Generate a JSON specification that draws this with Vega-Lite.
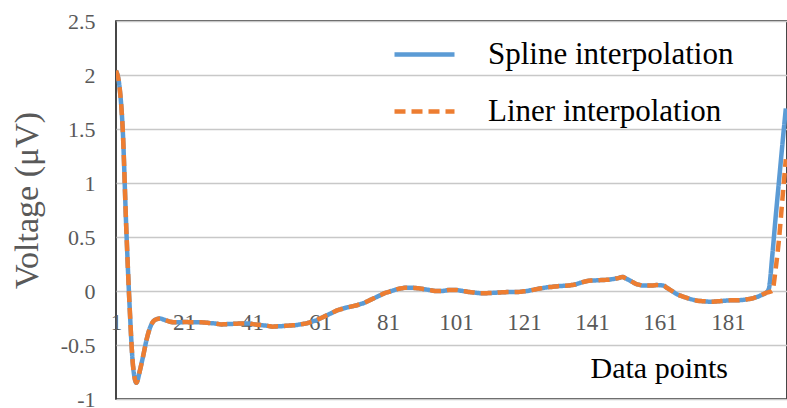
{
  "$schema": "https://vega.github.io/schema/vega-lite/v6.json",
  "width": 671,
  "height": 378,
  "autosize": "none",
  "padding": {"left": 116, "top": 21, "right": 0, "bottom": 9},
  "background": "white",
  "config": {
    "font": "Liberation Serif",
    "view": {"stroke": "#1a1a1a", "strokeWidth": 1.6},
    "axis": {"labelFont": "Liberation Serif", "titleFont": "Liberation Serif", "titleFontWeight": "normal"}
  },
  "data": {
    "values": [
      {"point": 1, "Spline interpolation": 2.04, "Liner interpolation": 2.04},
      {"point": 2, "Spline interpolation": 1.9, "Liner interpolation": 1.9},
      {"point": 3, "Spline interpolation": 1.48, "Liner interpolation": 1.48},
      {"point": 4, "Spline interpolation": 0.6, "Liner interpolation": 0.6},
      {"point": 5, "Spline interpolation": -0.14, "Liner interpolation": -0.14},
      {"point": 6, "Spline interpolation": -0.69, "Liner interpolation": -0.69},
      {"point": 7, "Spline interpolation": -0.85, "Liner interpolation": -0.85},
      {"point": 8, "Spline interpolation": -0.74, "Liner interpolation": -0.74},
      {"point": 9, "Spline interpolation": -0.6, "Liner interpolation": -0.6},
      {"point": 10, "Spline interpolation": -0.45, "Liner interpolation": -0.45},
      {"point": 11, "Spline interpolation": -0.34, "Liner interpolation": -0.34},
      {"point": 12, "Spline interpolation": -0.28, "Liner interpolation": -0.28},
      {"point": 13, "Spline interpolation": -0.26, "Liner interpolation": -0.26},
      {"point": 14, "Spline interpolation": -0.255, "Liner interpolation": -0.255},
      {"point": 15, "Spline interpolation": -0.265, "Liner interpolation": -0.265},
      {"point": 16, "Spline interpolation": -0.275, "Liner interpolation": -0.275},
      {"point": 17, "Spline interpolation": -0.285, "Liner interpolation": -0.285},
      {"point": 18, "Spline interpolation": -0.29, "Liner interpolation": -0.29},
      {"point": 19, "Spline interpolation": -0.29, "Liner interpolation": -0.29},
      {"point": 20, "Spline interpolation": -0.29, "Liner interpolation": -0.29},
      {"point": 21, "Spline interpolation": -0.288, "Liner interpolation": -0.288},
      {"point": 22, "Spline interpolation": -0.288, "Liner interpolation": -0.288},
      {"point": 23, "Spline interpolation": -0.29, "Liner interpolation": -0.29},
      {"point": 24, "Spline interpolation": -0.29, "Liner interpolation": -0.29},
      {"point": 25, "Spline interpolation": -0.29, "Liner interpolation": -0.29},
      {"point": 26, "Spline interpolation": -0.29, "Liner interpolation": -0.29},
      {"point": 27, "Spline interpolation": -0.292, "Liner interpolation": -0.292},
      {"point": 28, "Spline interpolation": -0.295, "Liner interpolation": -0.295},
      {"point": 29, "Spline interpolation": -0.298, "Liner interpolation": -0.298},
      {"point": 30, "Spline interpolation": -0.3, "Liner interpolation": -0.3},
      {"point": 31, "Spline interpolation": -0.305, "Liner interpolation": -0.305},
      {"point": 32, "Spline interpolation": -0.31, "Liner interpolation": -0.31},
      {"point": 33, "Spline interpolation": -0.308, "Liner interpolation": -0.308},
      {"point": 34, "Spline interpolation": -0.306, "Liner interpolation": -0.306},
      {"point": 35, "Spline interpolation": -0.305, "Liner interpolation": -0.305},
      {"point": 36, "Spline interpolation": -0.303, "Liner interpolation": -0.303},
      {"point": 37, "Spline interpolation": -0.302, "Liner interpolation": -0.302},
      {"point": 38, "Spline interpolation": -0.3, "Liner interpolation": -0.3},
      {"point": 39, "Spline interpolation": -0.3, "Liner interpolation": -0.3},
      {"point": 40, "Spline interpolation": -0.3, "Liner interpolation": -0.3},
      {"point": 41, "Spline interpolation": -0.305, "Liner interpolation": -0.305},
      {"point": 42, "Spline interpolation": -0.31, "Liner interpolation": -0.31},
      {"point": 43, "Spline interpolation": -0.313, "Liner interpolation": -0.313},
      {"point": 44, "Spline interpolation": -0.317, "Liner interpolation": -0.317},
      {"point": 45, "Spline interpolation": -0.32, "Liner interpolation": -0.32},
      {"point": 46, "Spline interpolation": -0.325, "Liner interpolation": -0.325},
      {"point": 47, "Spline interpolation": -0.33, "Liner interpolation": -0.33},
      {"point": 48, "Spline interpolation": -0.328, "Liner interpolation": -0.328},
      {"point": 49, "Spline interpolation": -0.327, "Liner interpolation": -0.327},
      {"point": 50, "Spline interpolation": -0.325, "Liner interpolation": -0.325},
      {"point": 51, "Spline interpolation": -0.322, "Liner interpolation": -0.322},
      {"point": 52, "Spline interpolation": -0.32, "Liner interpolation": -0.32},
      {"point": 53, "Spline interpolation": -0.318, "Liner interpolation": -0.318},
      {"point": 54, "Spline interpolation": -0.315, "Liner interpolation": -0.315},
      {"point": 55, "Spline interpolation": -0.31, "Liner interpolation": -0.31},
      {"point": 56, "Spline interpolation": -0.305, "Liner interpolation": -0.305},
      {"point": 57, "Spline interpolation": -0.3, "Liner interpolation": -0.3},
      {"point": 58, "Spline interpolation": -0.29, "Liner interpolation": -0.29},
      {"point": 59, "Spline interpolation": -0.28, "Liner interpolation": -0.28},
      {"point": 60, "Spline interpolation": -0.27, "Liner interpolation": -0.27},
      {"point": 61, "Spline interpolation": -0.255, "Liner interpolation": -0.255},
      {"point": 62, "Spline interpolation": -0.24, "Liner interpolation": -0.24},
      {"point": 63, "Spline interpolation": -0.225, "Liner interpolation": -0.225},
      {"point": 64, "Spline interpolation": -0.21, "Liner interpolation": -0.21},
      {"point": 65, "Spline interpolation": -0.195, "Liner interpolation": -0.195},
      {"point": 66, "Spline interpolation": -0.18, "Liner interpolation": -0.18},
      {"point": 67, "Spline interpolation": -0.17, "Liner interpolation": -0.17},
      {"point": 68, "Spline interpolation": -0.16, "Liner interpolation": -0.16},
      {"point": 69, "Spline interpolation": -0.152, "Liner interpolation": -0.152},
      {"point": 70, "Spline interpolation": -0.145, "Liner interpolation": -0.145},
      {"point": 71, "Spline interpolation": -0.138, "Liner interpolation": -0.138},
      {"point": 72, "Spline interpolation": -0.13, "Liner interpolation": -0.13},
      {"point": 73, "Spline interpolation": -0.12, "Liner interpolation": -0.12},
      {"point": 74, "Spline interpolation": -0.11, "Liner interpolation": -0.11},
      {"point": 75, "Spline interpolation": -0.095, "Liner interpolation": -0.095},
      {"point": 76, "Spline interpolation": -0.08, "Liner interpolation": -0.08},
      {"point": 77, "Spline interpolation": -0.065, "Liner interpolation": -0.065},
      {"point": 78, "Spline interpolation": -0.05, "Liner interpolation": -0.05},
      {"point": 79, "Spline interpolation": -0.035, "Liner interpolation": -0.035},
      {"point": 80, "Spline interpolation": -0.02, "Liner interpolation": -0.02},
      {"point": 81, "Spline interpolation": -0.01, "Liner interpolation": -0.01},
      {"point": 82, "Spline interpolation": 0.0, "Liner interpolation": 0.0},
      {"point": 83, "Spline interpolation": 0.01, "Liner interpolation": 0.01},
      {"point": 84, "Spline interpolation": 0.02, "Liner interpolation": 0.02},
      {"point": 85, "Spline interpolation": 0.025, "Liner interpolation": 0.025},
      {"point": 86, "Spline interpolation": 0.03, "Liner interpolation": 0.03},
      {"point": 87, "Spline interpolation": 0.03, "Liner interpolation": 0.03},
      {"point": 88, "Spline interpolation": 0.03, "Liner interpolation": 0.03},
      {"point": 89, "Spline interpolation": 0.028, "Liner interpolation": 0.028},
      {"point": 90, "Spline interpolation": 0.025, "Liner interpolation": 0.025},
      {"point": 91, "Spline interpolation": 0.02, "Liner interpolation": 0.02},
      {"point": 92, "Spline interpolation": 0.015, "Liner interpolation": 0.015},
      {"point": 93, "Spline interpolation": 0.01, "Liner interpolation": 0.01},
      {"point": 94, "Spline interpolation": 0.005, "Liner interpolation": 0.005},
      {"point": 95, "Spline interpolation": 0.0, "Liner interpolation": 0.0},
      {"point": 96, "Spline interpolation": 0.0, "Liner interpolation": 0.0},
      {"point": 97, "Spline interpolation": 0.0, "Liner interpolation": 0.0},
      {"point": 98, "Spline interpolation": 0.005, "Liner interpolation": 0.005},
      {"point": 99, "Spline interpolation": 0.01, "Liner interpolation": 0.01},
      {"point": 100, "Spline interpolation": 0.01, "Liner interpolation": 0.01},
      {"point": 101, "Spline interpolation": 0.01, "Liner interpolation": 0.01},
      {"point": 102, "Spline interpolation": 0.005, "Liner interpolation": 0.005},
      {"point": 103, "Spline interpolation": 0.0, "Liner interpolation": 0.0},
      {"point": 104, "Spline interpolation": -0.005, "Liner interpolation": -0.005},
      {"point": 105, "Spline interpolation": -0.01, "Liner interpolation": -0.01},
      {"point": 106, "Spline interpolation": -0.013, "Liner interpolation": -0.013},
      {"point": 107, "Spline interpolation": -0.017, "Liner interpolation": -0.017},
      {"point": 108, "Spline interpolation": -0.02, "Liner interpolation": -0.02},
      {"point": 109, "Spline interpolation": -0.02, "Liner interpolation": -0.02},
      {"point": 110, "Spline interpolation": -0.02, "Liner interpolation": -0.02},
      {"point": 111, "Spline interpolation": -0.018, "Liner interpolation": -0.018},
      {"point": 112, "Spline interpolation": -0.017, "Liner interpolation": -0.017},
      {"point": 113, "Spline interpolation": -0.015, "Liner interpolation": -0.015},
      {"point": 114, "Spline interpolation": -0.013, "Liner interpolation": -0.013},
      {"point": 115, "Spline interpolation": -0.012, "Liner interpolation": -0.012},
      {"point": 116, "Spline interpolation": -0.01, "Liner interpolation": -0.01},
      {"point": 117, "Spline interpolation": -0.01, "Liner interpolation": -0.01},
      {"point": 118, "Spline interpolation": -0.01, "Liner interpolation": -0.01},
      {"point": 119, "Spline interpolation": -0.01, "Liner interpolation": -0.01},
      {"point": 120, "Spline interpolation": -0.007, "Liner interpolation": -0.007},
      {"point": 121, "Spline interpolation": -0.003, "Liner interpolation": -0.003},
      {"point": 122, "Spline interpolation": 0.0, "Liner interpolation": 0.0},
      {"point": 123, "Spline interpolation": 0.007, "Liner interpolation": 0.007},
      {"point": 124, "Spline interpolation": 0.013, "Liner interpolation": 0.013},
      {"point": 125, "Spline interpolation": 0.02, "Liner interpolation": 0.02},
      {"point": 126, "Spline interpolation": 0.025, "Liner interpolation": 0.025},
      {"point": 127, "Spline interpolation": 0.03, "Liner interpolation": 0.03},
      {"point": 128, "Spline interpolation": 0.035, "Liner interpolation": 0.035},
      {"point": 129, "Spline interpolation": 0.038, "Liner interpolation": 0.038},
      {"point": 130, "Spline interpolation": 0.042, "Liner interpolation": 0.042},
      {"point": 131, "Spline interpolation": 0.045, "Liner interpolation": 0.045},
      {"point": 132, "Spline interpolation": 0.047, "Liner interpolation": 0.047},
      {"point": 133, "Spline interpolation": 0.048, "Liner interpolation": 0.048},
      {"point": 134, "Spline interpolation": 0.05, "Liner interpolation": 0.05},
      {"point": 135, "Spline interpolation": 0.055, "Liner interpolation": 0.055},
      {"point": 136, "Spline interpolation": 0.06, "Liner interpolation": 0.06},
      {"point": 137, "Spline interpolation": 0.07, "Liner interpolation": 0.07},
      {"point": 138, "Spline interpolation": 0.08, "Liner interpolation": 0.08},
      {"point": 139, "Spline interpolation": 0.088, "Liner interpolation": 0.088},
      {"point": 140, "Spline interpolation": 0.095, "Liner interpolation": 0.095},
      {"point": 141, "Spline interpolation": 0.097, "Liner interpolation": 0.097},
      {"point": 142, "Spline interpolation": 0.098, "Liner interpolation": 0.098},
      {"point": 143, "Spline interpolation": 0.1, "Liner interpolation": 0.1},
      {"point": 144, "Spline interpolation": 0.102, "Liner interpolation": 0.102},
      {"point": 145, "Spline interpolation": 0.103, "Liner interpolation": 0.103},
      {"point": 146, "Spline interpolation": 0.105, "Liner interpolation": 0.105},
      {"point": 147, "Spline interpolation": 0.11, "Liner interpolation": 0.11},
      {"point": 148, "Spline interpolation": 0.115, "Liner interpolation": 0.115},
      {"point": 149, "Spline interpolation": 0.122, "Liner interpolation": 0.122},
      {"point": 150, "Spline interpolation": 0.13, "Liner interpolation": 0.13},
      {"point": 151, "Spline interpolation": 0.115, "Liner interpolation": 0.115},
      {"point": 152, "Spline interpolation": 0.1, "Liner interpolation": 0.1},
      {"point": 153, "Spline interpolation": 0.082, "Liner interpolation": 0.082},
      {"point": 154, "Spline interpolation": 0.065, "Liner interpolation": 0.065},
      {"point": 155, "Spline interpolation": 0.057, "Liner interpolation": 0.057},
      {"point": 156, "Spline interpolation": 0.05, "Liner interpolation": 0.05},
      {"point": 157, "Spline interpolation": 0.05, "Liner interpolation": 0.05},
      {"point": 158, "Spline interpolation": 0.05, "Liner interpolation": 0.05},
      {"point": 159, "Spline interpolation": 0.052, "Liner interpolation": 0.052},
      {"point": 160, "Spline interpolation": 0.055, "Liner interpolation": 0.055},
      {"point": 161, "Spline interpolation": 0.053, "Liner interpolation": 0.053},
      {"point": 162, "Spline interpolation": 0.05, "Liner interpolation": 0.05},
      {"point": 163, "Spline interpolation": 0.03, "Liner interpolation": 0.03},
      {"point": 164, "Spline interpolation": 0.01, "Liner interpolation": 0.01},
      {"point": 165, "Spline interpolation": -0.01, "Liner interpolation": -0.01},
      {"point": 166, "Spline interpolation": -0.03, "Liner interpolation": -0.03},
      {"point": 167, "Spline interpolation": -0.043, "Liner interpolation": -0.043},
      {"point": 168, "Spline interpolation": -0.055, "Liner interpolation": -0.055},
      {"point": 169, "Spline interpolation": -0.065, "Liner interpolation": -0.065},
      {"point": 170, "Spline interpolation": -0.075, "Liner interpolation": -0.075},
      {"point": 171, "Spline interpolation": -0.083, "Liner interpolation": -0.083},
      {"point": 172, "Spline interpolation": -0.09, "Liner interpolation": -0.09},
      {"point": 173, "Spline interpolation": -0.093, "Liner interpolation": -0.093},
      {"point": 174, "Spline interpolation": -0.095, "Liner interpolation": -0.095},
      {"point": 175, "Spline interpolation": -0.098, "Liner interpolation": -0.098},
      {"point": 176, "Spline interpolation": -0.1, "Liner interpolation": -0.1},
      {"point": 177, "Spline interpolation": -0.098, "Liner interpolation": -0.098},
      {"point": 178, "Spline interpolation": -0.095, "Liner interpolation": -0.095},
      {"point": 179, "Spline interpolation": -0.093, "Liner interpolation": -0.093},
      {"point": 180, "Spline interpolation": -0.09, "Liner interpolation": -0.09},
      {"point": 181, "Spline interpolation": -0.088, "Liner interpolation": -0.088},
      {"point": 182, "Spline interpolation": -0.085, "Liner interpolation": -0.085},
      {"point": 183, "Spline interpolation": -0.085, "Liner interpolation": -0.085},
      {"point": 184, "Spline interpolation": -0.085, "Liner interpolation": -0.085},
      {"point": 185, "Spline interpolation": -0.083, "Liner interpolation": -0.083},
      {"point": 186, "Spline interpolation": -0.08, "Liner interpolation": -0.08},
      {"point": 187, "Spline interpolation": -0.075, "Liner interpolation": -0.075},
      {"point": 188, "Spline interpolation": -0.07, "Liner interpolation": -0.07},
      {"point": 189, "Spline interpolation": -0.06, "Liner interpolation": -0.06},
      {"point": 190, "Spline interpolation": -0.05, "Liner interpolation": -0.05},
      {"point": 191, "Spline interpolation": -0.035, "Liner interpolation": -0.035},
      {"point": 192, "Spline interpolation": -0.02, "Liner interpolation": -0.02},
      {"point": 193, "Spline interpolation": 0.02, "Liner interpolation": -0.01},
      {"point": 194, "Spline interpolation": 0.32, "Liner interpolation": 0.0},
      {"point": 195, "Spline interpolation": 0.68, "Liner interpolation": 0.2},
      {"point": 196, "Spline interpolation": 1.02, "Liner interpolation": 0.48},
      {"point": 197, "Spline interpolation": 1.36, "Liner interpolation": 0.85},
      {"point": 198, "Spline interpolation": 1.69, "Liner interpolation": 1.22}
    ]
  },
  "transform": [
    {"fold": ["Spline interpolation", "Liner interpolation"], "as": ["series", "voltage"]}
  ],
  "mark": {"type": "line", "interpolate": "monotone", "strokeWidth": 4.5, "clip": true},
  "encoding": {
    "x": {
      "field": "point",
      "type": "quantitative",
      "scale": {"domain": [1, 198.35], "nice": false, "zero": false},
      "axis": {
        "values": [1, 21, 41, 61, 81, 101, 121, 141, 161, 181],
        "offset": -108,
        "domain": false,
        "ticks": false,
        "grid": false,
        "labelPadding": 20,
        "labelFontSize": 23,
        "labelColor": "#595959",
        "labelFlush": false,
        "title": "Data points",
        "titleFontSize": 30,
        "titleColor": "#000000",
        "titleAlign": "left",
        "titleBaseline": "alphabetic",
        "titleX": 474,
        "titleY": 86
      }
    },
    "y": {
      "field": "voltage",
      "type": "quantitative",
      "scale": {"domain": [-1, 2.5], "nice": false},
      "axis": {
        "values": [-1, -0.5, 0, 0.5, 1, 1.5, 2, 2.5],
        "labelExpr": "'' + datum.value",
        "domain": false,
        "ticks": false,
        "gridColor": "#c8c8c8",
        "gridWidth": 1.3,
        "labelPadding": 21,
        "labelFontSize": 22,
        "labelColor": "#595959",
        "title": "Voltage (μV)",
        "titleFontSize": 34,
        "titleColor": "#595959",
        "titleAngle": -90,
        "titleAlign": "center",
        "titleBaseline": "middle",
        "titleX": -89,
        "titleY": 179
      }
    },
    "color": {
      "field": "series",
      "type": "nominal",
      "sort": ["Spline interpolation", "Liner interpolation"],
      "scale": {"domain": ["Spline interpolation", "Liner interpolation"], "range": ["#5b9bd5", "#ed7d31"]},
      "legend": {
        "title": null,
        "orient": "none",
        "legendX": 276,
        "legendY": 1,
        "padding": 0,
        "symbolType": "stroke",
        "symbolSize": 3600,
        "symbolStrokeWidth": 4.5,
        "rowPadding": 9,
        "labelFont": "Liberation Serif",
        "labelFontSize": 31,
        "labelColor": "#000000",
        "labelOffset": 31,
        "labelLimit": 400
      }
    },
    "strokeDash": {
      "field": "series",
      "type": "nominal",
      "sort": ["Spline interpolation", "Liner interpolation"],
      "scale": {"domain": ["Spline interpolation", "Liner interpolation"], "range": [[1, 0], [11, 6]]},
      "legend": null
    }
  }
}
